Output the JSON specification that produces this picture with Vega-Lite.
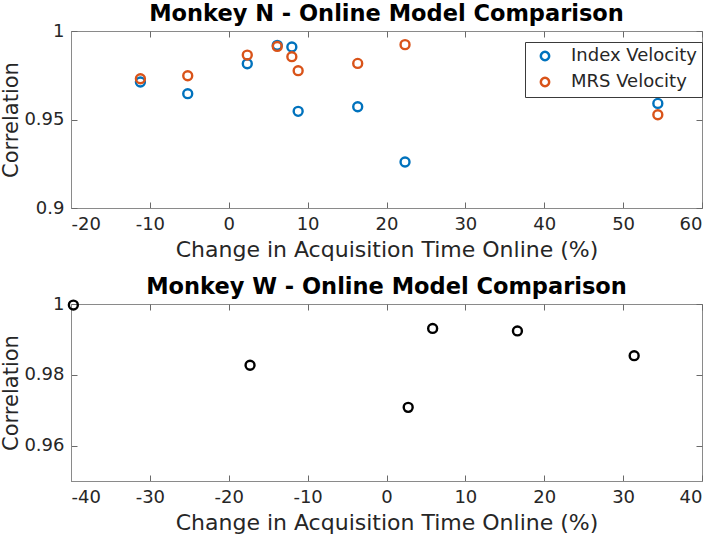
{
  "$schema": "https://vega.github.io/schema/vega-lite/v6.json",
  "padding": {"left": 0, "top": 2, "right": 0, "bottom": 0},
  "background": "white",
  "config": {
    "font": "DejaVu Sans",
    "view": {"stroke": "#8a8a8a", "strokeWidth": 1},
    "axis": {
      "zindex": 1,
      "domainColor": "#8a8a8a",
      "tickColor": "#6a6a6a",
      "tickWidth": 1,
      "tickSize": -6,
      "labelPadding": 13,
      "labelFontSize": 18,
      "labelColor": "#262626",
      "titleFontSize": 22,
      "titleFontWeight": "normal",
      "titleColor": "#262626",
      "grid": false
    },
    "title": {"fontSize": 22.5, "fontWeight": "bold", "color": "#000000", "offset": -3}
  },
  "spacing": 14,
  "datasets": {
    "N": [
      {"change": -11.2, "corr": 0.9712, "series": "Index Velocity"},
      {"change": -5.2, "corr": 0.9646, "series": "Index Velocity"},
      {"change": 2.35, "corr": 0.9815, "series": "Index Velocity"},
      {"change": 6.15, "corr": 0.9919, "series": "Index Velocity"},
      {"change": 8.0, "corr": 0.9910, "series": "Index Velocity"},
      {"change": 8.8, "corr": 0.9546, "series": "Index Velocity"},
      {"change": 16.35, "corr": 0.9572, "series": "Index Velocity"},
      {"change": 22.35, "corr": 0.9260, "series": "Index Velocity"},
      {"change": 54.4, "corr": 0.9591, "series": "Index Velocity"},
      {"change": -11.2, "corr": 0.9730, "series": "MRS Velocity"},
      {"change": -5.2, "corr": 0.9747, "series": "MRS Velocity"},
      {"change": 2.35, "corr": 0.9864, "series": "MRS Velocity"},
      {"change": 6.15, "corr": 0.9913, "series": "MRS Velocity"},
      {"change": 8.0, "corr": 0.9855, "series": "MRS Velocity"},
      {"change": 8.8, "corr": 0.9776, "series": "MRS Velocity"},
      {"change": 16.35, "corr": 0.9817, "series": "MRS Velocity"},
      {"change": 22.35, "corr": 0.9923, "series": "MRS Velocity"},
      {"change": 54.4, "corr": 0.9527, "series": "MRS Velocity"}
    ],
    "W": [
      {"change": -39.7, "corr": 0.9997},
      {"change": -17.3, "corr": 0.9827},
      {"change": 2.75, "corr": 0.9708},
      {"change": 5.85, "corr": 0.9931},
      {"change": 16.6, "corr": 0.9924},
      {"change": 31.4, "corr": 0.9854}
    ]
  },
  "vconcat": [
    {
      "title": "Monkey N - Online Model Comparison",
      "width": 631,
      "height": 177,
      "data": {"name": "N"},
      "layer": [
        {
          "mark": {"type": "point", "filled": false, "strokeWidth": 2.4, "size": 80, "opacity": 1},
          "encoding": {
            "x": {"field": "change", "type": "quantitative", "scale": {"domain": [-20, 60], "nice": false, "zero": false},
                  "axis": {"values": [-20, -10, 0, 10, 20, 30, 40, 50, 60], "labelExpr": "'' + datum.value", "title": "Change in Acquisition Time Online (%)", "titlePadding": 6}},
            "y": {"field": "corr", "type": "quantitative", "scale": {"domain": [0.9, 1], "nice": false, "zero": false},
                  "axis": {"values": [0.9, 0.95, 1], "labelExpr": "'' + datum.value", "title": "Correlation", "titleFontSize": 21, "titlePadding": 2}},
            "color": {"field": "series", "type": "nominal",
                      "scale": {"domain": ["Index Velocity", "MRS Velocity"], "range": ["#0072BD", "#D95319"]},
                      "legend": {"title": null, "orient": "none", "legendX": 454, "legendY": 11,
                                 "fillColor": "white", "strokeColor": "#3a3a3a", "padding": 5,
                                 "labelFontSize": 18, "labelColor": "#262626", "symbolType": "circle",
                                 "symbolSize": 70, "symbolStrokeWidth": 2.5, "symbolFillColor": "transparent",
                                 "rowPadding": 6, "labelOffset": 17, "symbolOffset": 6}}
          }
        },
        {
          "mark": {"type": "point", "opacity": 0},
          "encoding": {
            "x": {"field": "change", "type": "quantitative",
                  "axis": {"orient": "top", "values": [-20, -10, 0, 10, 20, 30, 40, 50, 60], "labels": false, "domain": false, "title": null}},
            "y": {"field": "corr", "type": "quantitative",
                  "axis": {"orient": "right", "values": [0.9, 0.95, 1], "labels": false, "domain": false, "title": null}}
          }
        }
      ],
      "resolve": {"axis": {"x": "independent", "y": "independent"}}
    },
    {
      "title": "Monkey W - Online Model Comparison",
      "width": 631,
      "height": 177,
      "data": {"name": "W"},
      "layer": [
        {
          "mark": {"type": "point", "filled": false, "strokeWidth": 2.4, "size": 80, "color": "#000000", "opacity": 1},
          "encoding": {
            "x": {"field": "change", "type": "quantitative", "scale": {"domain": [-40, 40], "nice": false, "zero": false},
                  "axis": {"values": [-40, -30, -20, -10, 0, 10, 20, 30, 40], "labelExpr": "'' + datum.value", "title": "Change in Acquisition Time Online (%)", "titlePadding": 6}},
            "y": {"field": "corr", "type": "quantitative", "scale": {"domain": [0.95, 1], "nice": false, "zero": false},
                  "axis": {"values": [0.96, 0.98, 1], "labelExpr": "'' + datum.value", "title": "Correlation", "titleFontSize": 21, "titlePadding": 2}}
          }
        },
        {
          "mark": {"type": "point", "opacity": 0},
          "encoding": {
            "x": {"field": "change", "type": "quantitative",
                  "axis": {"orient": "top", "values": [-40, -30, -20, -10, 0, 10, 20, 30, 40], "labels": false, "domain": false, "title": null}},
            "y": {"field": "corr", "type": "quantitative",
                  "axis": {"orient": "right", "values": [0.96, 0.98, 1], "labels": false, "domain": false, "title": null}}
          }
        }
      ],
      "resolve": {"axis": {"x": "independent", "y": "independent"}}
    }
  ]
}
